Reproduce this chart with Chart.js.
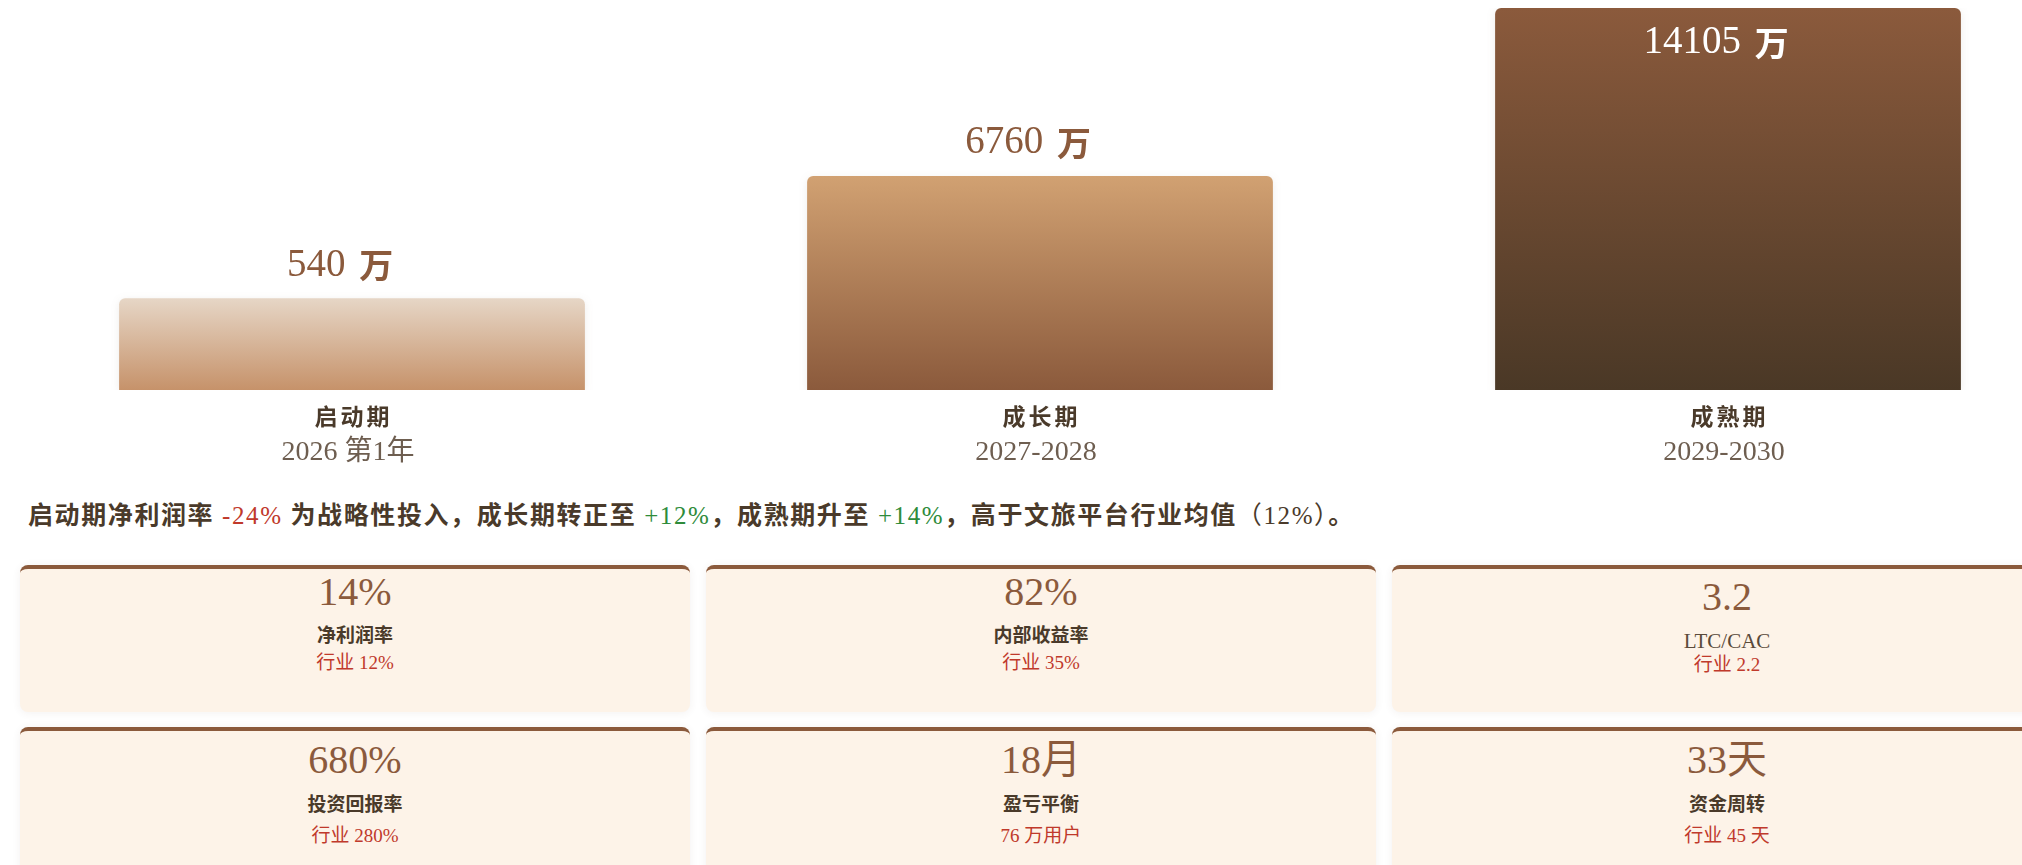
<!DOCTYPE html>
<html lang="zh-CN">
<head>
<meta charset="utf-8">
<script src="https://cdn.jsdelivr.net/npm/chart.js@4.4.1/dist/chart.umd.min.js"></script>
<style>
html,body{margin:0;padding:0;background:#fff;overflow:hidden;width:2022px;height:865px;}
#wrap{position:relative;width:2080px;height:865px;}
#c{position:absolute;left:0;top:0;}
.note{position:absolute;left:28px;top:501px;font:bold 25px/30px "Liberation Serif","Noto Sans CJK SC",serif;color:#4a3a2a;white-space:nowrap;letter-spacing:1.6px;}
.note .neg{color:#c0392b;font-weight:normal;}
.note .pos{color:#2e8b3a;font-weight:normal;}
.note .par{font-weight:normal;}
.grid{position:absolute;left:20px;top:565px;display:grid;grid-template-columns:repeat(3,670px);column-gap:16px;row-gap:15px;}
.card{background:#fdf3e8;border-top:4px solid #8b5a3c;border-radius:8px;box-shadow:0 1px 8px rgba(80,60,40,0.07);text-align:center;box-sizing:border-box;}
.card.r1{height:147px;}
.card.r2{height:160px;}
.v{font:40px/44px "Liberation Serif","Noto Sans CJK SC",serif;color:#8b5a3c;}
.l{font:bold 19px/24px "Liberation Serif","Noto Sans CJK SC",serif;color:#4a3a2a;}
.l.latin{font-weight:normal;font-size:21px;color:#5a4a3a;}
.s{font:19px/24px "Liberation Serif","Noto Sans CJK SC",serif;color:#c0392b;}
.r1 .v{margin-top:1px;}
.r1 .l{margin-top:10px;}
.r1 .s{margin-top:3px;}
.r1 .v.low{margin-top:6px;}
.r1 .l.latin{margin-top:10px;}
.r1 .s.tight{margin-top:0;}
.r2 .v{margin-top:7px;}
.r2 .l{margin-top:11px;}
.r2 .s{margin-top:7px;}
</style>
</head>
<body>
<div id="wrap">
  <canvas id="c" width="2080" height="470" style="width:2080px;height:470px;"></canvas>
  <div class="note" id="note"></div>
  <div class="grid" id="grid"></div>
</div>
<script>
// ---- data ----
const stageNames = ['启动期', '成长期', '成熟期'];
const stagePeriods = ['2026 第1年', '2027-2028', '2029-2030'];
const revenue = [540, 6760, 14105];          // 万
const barHeight = [24, 56, 100];             // displayed bar height, % of tallest
const marginStage = ['-24%', '+12%', '+14%'];
const industryMargin = '12%';
const kpiValues = ['14%', '82%', '3.2', '680%', '18月', '33天'];
const kpiLabels = ['净利润率', '内部收益率', 'LTC/CAC', '投资回报率', '盈亏平衡', '资金周转'];
const kpiBench = ['行业 12%', '行业 35%', '行业 2.2', '行业 280%', '76 万用户', '行业 45 天'];

// ---- styles ----
const gradTop = ['#e6d6c6', '#d1a172', '#8b5a3c'];
const gradBottom = ['#c6926a', '#8b5a3c', '#4a3826'];

// sentence
document.getElementById('note').innerHTML =
  '启动期净利润率 <span class="neg">' + marginStage[0] + '</span> 为战略性投入，成长期转正至 <span class="pos">' +
  marginStage[1] + '</span>，成熟期升至 <span class="pos">' + marginStage[2] +
  '</span>，高于文旅平台行业均值<span class="par">（' + industryMargin + '）</span>。';

// cards
const grid = document.getElementById('grid');
kpiValues.forEach((v, i) => {
  const d = document.createElement('div');
  d.className = 'card ' + (i < 3 ? 'r1' : 'r2');
  const latin = /^[\x00-\x7f]+$/.test(kpiLabels[i]);
  d.innerHTML = '<div class="v' + (latin ? ' low' : '') + '">' + v + '</div><div class="l' + (latin ? ' latin' : '') + '">' +
    kpiLabels[i] + '</div><div class="s' + (latin ? ' tight' : '') + '">' + kpiBench[i] + '</div>';
  grid.appendChild(d);
});

const barShadow = {
  id: 'barShadow',
  beforeDatasetDraw(chart) {
    const ctx = chart.ctx;
    ctx.save();
    ctx.shadowColor = 'rgba(90,70,50,0.10)';
    ctx.shadowBlur = 8;
    ctx.shadowOffsetY = 2;
  },
  afterDatasetDraw(chart) { chart.ctx.restore(); }
};

const labelPlugin = {
  id: 'stageLabels',
  afterDatasetsDraw(chart) {
    const ctx = chart.ctx;
    const meta = chart.getDatasetMeta(0);
    ctx.save();
    ctx.textBaseline = 'middle';
    meta.data.forEach((bar, i) => {
      const x = bar.x;
      const numTxt = revenue[i] + ' ';
      ctx.font = '39px "Liberation Serif", serif';
      const w1 = ctx.measureText(numTxt).width;
      ctx.font = 'bold 34px "Noto Sans CJK SC", sans-serif';
      const w2 = ctx.measureText('万').width;
      const inside = bar.y - 60 < chart.chartArea.top;
      const y = inside ? bar.y + 35 : bar.y - 33;
      ctx.fillStyle = inside ? '#ffffff' : '#8b5a3c';
      ctx.textAlign = 'left';
      const x0 = x - 14 - (w1 + w2) / 2;
      ctx.font = '39px "Liberation Serif", serif';
      ctx.fillText(numTxt, x0, y);
      ctx.font = 'bold 34px "Noto Sans CJK SC", sans-serif';
      ctx.fillText('万', x0 + w1 + 4, y);

      ctx.textAlign = 'center';
      ctx.fillStyle = '#4a3a2a';
      ctx.font = 'bold 23px "Noto Sans CJK SC", sans-serif';
      ctx.letterSpacing = '3px';
      ctx.fillText(stageNames[i], x + 1.5, 416);
      ctx.letterSpacing = '0px';
      ctx.fillStyle = '#6e5e50';
      ctx.font = '28px "Liberation Serif", "Noto Sans CJK SC", serif';
      ctx.fillText(stagePeriods[i], x - 4, 453);
    });
    ctx.restore();
  }
};

new Chart(document.getElementById('c'), {
  type: 'bar',
  data: {
    labels: stageNames,
    datasets: [{
      data: barHeight,
      backgroundColor: (c) => {
        const ch = c.chart;
        const ys = ch.scales && ch.scales.y;
        const i = c.dataIndex || 0;
        if (!ys || c.type !== 'data') return gradBottom[i];
        const top = ys.getPixelForValue(barHeight[i]);
        const base = ys.getPixelForValue(0);
        if (!isFinite(top) || !isFinite(base) || top === base) return gradBottom[i];
        const g = ch.ctx.createLinearGradient(0, top, 0, base);
        g.addColorStop(0, gradTop[i]);
        g.addColorStop(1, gradBottom[i]);
        return g;
      },
      borderRadius: { topLeft: 6, topRight: 6, bottomLeft: 0, bottomRight: 0 },
      borderSkipped: 'start',
      categoryPercentage: 1,
      barPercentage: 0.677
    }]
  },
  options: {
    responsive: false,
    animation: false,
    layout: { padding: { left: 8, right: 8, top: 8, bottom: 80 } },
    scales: {
      x: { display: false },
      y: { display: false, min: 0, max: 100 }
    },
    plugins: { legend: { display: false }, tooltip: { enabled: false } }
  },
  plugins: [barShadow, labelPlugin]
});
</script>
</body>
</html>
